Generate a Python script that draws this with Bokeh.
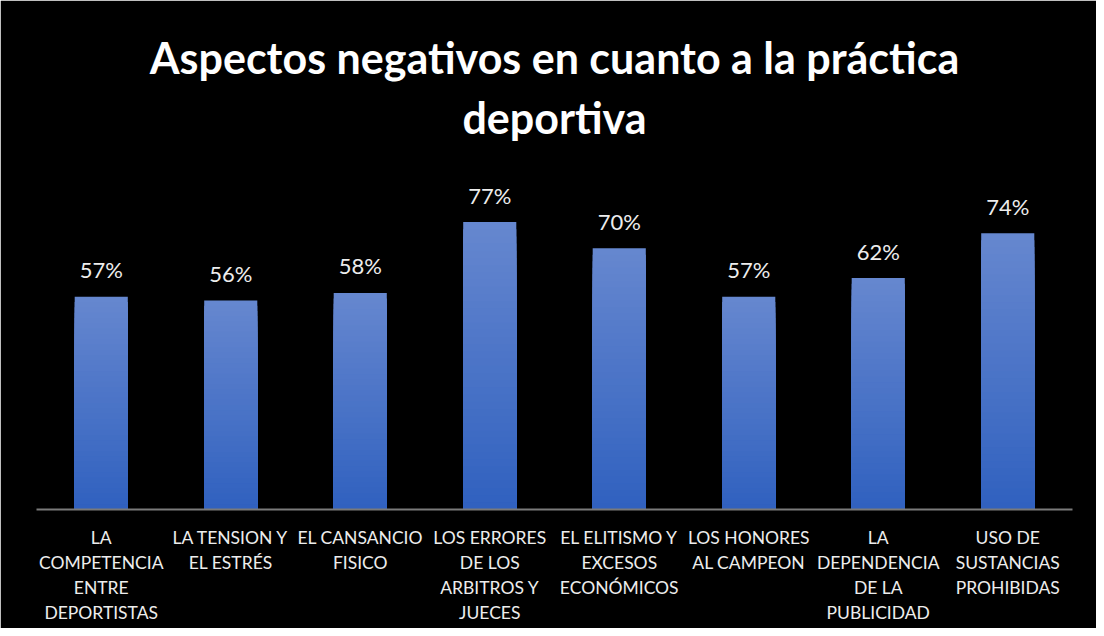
from bokeh.plotting import figure
from bokeh.models import ColumnDataSource, FactorRange, Range1d, Title
from bokeh.embed import file_html
from bokeh.resources import INLINE
from bokeh.core.properties import value

categories = [
    "LA\nCOMPETENCIA\nENTRE\nDEPORTISTAS",
    "LA TENSION Y\nEL ESTRÉS",
    "EL CANSANCIO\nFISICO",
    "LOS ERRORES\nDE LOS\nARBITROS Y\nJUECES",
    "EL ELITISMO Y\nEXCESOS\nECONÓMICOS",
    "LOS HONORES\nAL CAMPEON",
    "LA\nDEPENDENCIA\nDE LA\nPUBLICIDAD",
    "USO DE\nSUSTANCIAS\nPROHIBIDAS",
]
values = [57, 56, 58, 77, 70, 57, 62, 74]
value_labels = ["57%", "56%", "58%", "77%", "70%", "57%", "62%", "74%"]
title_text = "Aspectos negativos en cuanto a la práctica\ndeportiva"

p = figure(
    width=1096, height=628, title=None,
    x_range=FactorRange(factors=categories, range_padding=0),
    y_range=Range1d(0, 90),
    output_backend="svg", toolbar_location=None,
    min_border_left=36, min_border_right=24, min_border_top=173, min_border_bottom=119,
    background_fill_color="black", border_fill_color="black",
)
p.outline_line_color = "black"
p.outline_line_width = 2
p.grid.grid_line_color = None
p.yaxis.visible = False

p.add_layout(Title(text=title_text, align="center", text_align="center",
                   text_color="white", text_font="Lato", text_font_style="bold",
                   text_font_size="43px", text_line_height=1.18, standoff=60), "above")

# gradient bars (top light -> bottom dark), drawn tall-to-short so no seams
N = 40
top_rgb = (0x66, 0x87, 0xCF)
bot_rgb = (0x30, 0x61, 0xBF)
for i in range(N, 0, -1):
    t = (i - 0.5) / N
    col = "#%02x%02x%02x" % tuple(int(round(b + (a - b) * t)) for a, b in zip(top_rgb, bot_rgb))
    src = ColumnDataSource(dict(
        x=categories,
        top=[v * i / N for v in values],
    ))
    p.vbar(x="x", bottom=0, top="top", width=0.41, source=src,
           fill_color=col, line_color=None)

lab_src = ColumnDataSource(dict(x=categories, y=values, t=value_labels))
p.text(x="x", y="y", text="t", source=lab_src, text_align="center",
       text_baseline="alphabetic", y_offset=-27, text_color="#EDEDED",
       text_font=value("Lato"), text_font_size="22px")

ax = p.xaxis[0]
ax.axis_line_color = "#7a7a7a"
ax.axis_line_width = 2
ax.major_tick_line_color = None
ax.minor_tick_line_color = None
ax.major_label_text_color = "#EDEDED"
ax.major_label_text_font = "Lato"
ax.major_label_text_font_size = "17.5px"
ax.major_label_standoff = 11
ax.major_label_orientation = "horizontal"

open("out.html", "w").write(file_html(p, INLINE))
